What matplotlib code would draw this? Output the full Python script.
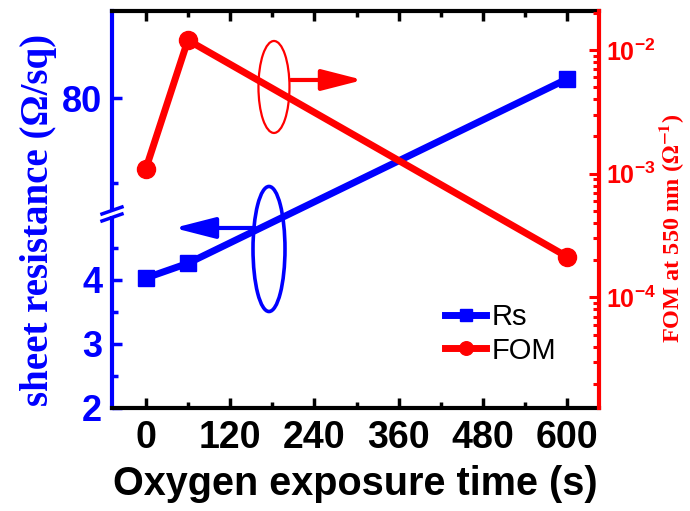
"""Sheet resistance and FOM versus oxygen exposure time (broken left axis)."""

import matplotlib

matplotlib.use("Agg")

import matplotlib.pyplot as plt
import numpy as np
from matplotlib import ticker
from matplotlib.patches import Ellipse

plt.rcParams["font.family"] = ["Liberation Sans", "DejaVu Sans"]
plt.rcParams["font.weight"] = "bold"
plt.rcParams["axes.labelweight"] = "bold"
plt.rcParams["mathtext.fontset"] = "custom"
plt.rcParams["mathtext.bf"] = "Liberation Sans:bold"
plt.rcParams["mathtext.rm"] = "Liberation Sans:bold"
plt.rcParams["mathtext.default"] = "bf"

BLUE = "#0000ff"
RED = "#ff0000"

# data
time_s = [0, 60, 600]
rs = [4.03, 4.26, 82.3]
fom = [1.09e-3, 1.2e-2, 2.13e-4]

x_ticks = [0, 120, 240, 360, 480, 600]
rs_ticks = [2, 3, 4, 80]
rs_minor = [2.5, 3.5, 4.5, 70]

# broken left axis: 2..5.03 linear, then 66.4.. compressed
LO_TOP = 5.03
HI_BOT = 66.4
K = 8.5 / 64.0
EPS = 0.001
_data_pts = np.array([-1000.0, LO_TOP, HI_BOT, 1000.0])
_scale_pts = np.array([-1000.0, LO_TOP, LO_TOP + EPS,
                       LO_TOP + EPS + (1000.0 - HI_BOT) * K])


def _fwd(y):
    return np.interp(np.asarray(y, float), _data_pts, _scale_pts)


def _inv(v):
    return np.interp(np.asarray(v, float), _scale_pts, _data_pts)


fig = plt.figure(figsize=(6.9, 5.11), dpi=100)
ax = fig.add_axes([0.1623, 0.2016, 0.7058, 0.7769])
ax2 = ax.twinx()

ax.set_yscale("function", functions=(_fwd, _inv))

l1, = ax.plot(time_s, rs, color=BLUE, lw=5, marker="s", ms=11.5,
              label="Rs", clip_on=False, zorder=3)
l2, = ax2.plot(time_s, fom, color=RED, lw=5, marker="o", ms=13,
               label="FOM", clip_on=False, zorder=3)

ax.set_xlim(-48, 645)
ax.set_ylim(2, 90.28)
ax2.set_yscale("log")
ax2.set_ylim(1.28e-5, 2.065e-2)

ax.set_xticks(x_ticks)
ax.xaxis.set_minor_locator(ticker.MultipleLocator(60))
ax.set_yticks(rs_ticks)
ax.set_yticks(rs_minor, minor=True)
ax.yaxis.set_major_formatter(ticker.FormatStrFormatter("%d"))
ax.yaxis.set_minor_formatter(ticker.NullFormatter())
ax2.yaxis.set_minor_formatter(ticker.NullFormatter())

for a in (ax, ax2):
    for s in a.spines.values():
        s.set_linewidth(3)
ax.spines["left"].set_color(BLUE)
ax.spines["right"].set_visible(False)
ax2.spines["right"].set_color(RED)
for side in ("left", "top", "bottom"):
    ax2.spines[side].set_visible(False)

ax.tick_params(axis="x", which="both", direction="in", top=True, width=2.5,
               colors="black", labelsize=27, pad=9)
ax.tick_params(axis="x", which="major", length=7)
ax.tick_params(axis="x", which="minor", length=4)
ax.tick_params(axis="y", which="both", direction="in", width=2.5,
               color=BLUE, labelcolor=BLUE, labelsize=26, pad=7)
ax.tick_params(axis="y", which="major", length=7)
ax.tick_params(axis="y", which="minor", length=4)
ax2.tick_params(axis="y", which="both", direction="in", width=2.2,
                color=RED, labelcolor=RED, labelsize=18, pad=5)
ax2.tick_params(axis="y", which="major", length=7)
ax2.tick_params(axis="y", which="minor", length=4)

ax.set_xlabel("Oxygen exposure time (s)", fontsize=28.5, fontweight="bold",
              labelpad=6)
ax.set_ylabel("sheet resistance (\u03a9/sq)", family="Liberation Serif",
              fontsize=28, fontweight="bold", color=BLUE)
ax.yaxis.set_label_coords(-0.112, 0.4736)
ax2.set_ylabel(r"FOM at 550 nm ($\mathbf{\Omega^{-1}}$)",
               family="Liberation Serif", fontsize=17.5, fontweight="bold",
               color=RED, math_fontfamily="stix")
ax2.yaxis.set_label_coords(1.12, 0.453)

# axis break marks on the left spine
by = (408 - 214) / 397.0
px, py = 1 / 487.0, 1 / 397.0
ax.plot([0, 0], [by - 2.5 * py, by + 2.5 * py], color="white", lw=4,
        transform=ax.transAxes, clip_on=False, zorder=5,
        solid_capstyle="butt")
for off in (3.5, -3.5):
    ax.plot([-10 * px, 10 * px],
            [by + off * py - 3.5 * py, by + off * py + 3.5 * py],
            color=BLUE, lw=2.5, transform=ax.transAxes, clip_on=False,
            zorder=6)

# ellipses with arrows pointing to each axis
ax2.add_patch(Ellipse((0.3326, 0.8086), 0.0637, 0.2317, transform=ax2.transAxes,
                      fill=False, ec=RED, lw=1.6, zorder=4))
ax2.annotate("", xy=(0.5154, 0.8262), xytext=(0.3676, 0.8262),
             xycoords="axes fraction",
             arrowprops=dict(arrowstyle="-|>,head_length=1.25,head_width=0.32",
                             mutation_scale=20, lw=3, color=RED,
                             shrinkA=0, shrinkB=0))
ax2.add_patch(Ellipse((0.3224, 0.4005), 0.0657, 0.315, transform=ax2.transAxes,
                      fill=False, ec=BLUE, lw=2.6, zorder=4))
ax2.annotate("", xy=(0.1273, 0.4534), xytext=(0.2936, 0.4534),
             xycoords="axes fraction",
             arrowprops=dict(arrowstyle="-|>,head_length=1.25,head_width=0.32",
                             mutation_scale=20, lw=3, color=BLUE,
                             shrinkA=0, shrinkB=0))

ax2.legend([l1, l2], ["Rs", "FOM"], loc="upper left",
           bbox_to_anchor=(0.684, 0.265), frameon=False,
           prop={"weight": "normal", "size": 21}, handlelength=1.4,
           handletextpad=0.2, labelspacing=0.2, borderpad=0,
           borderaxespad=0, markerscale=0.75)

fig.savefig("out.png", dpi=100)
